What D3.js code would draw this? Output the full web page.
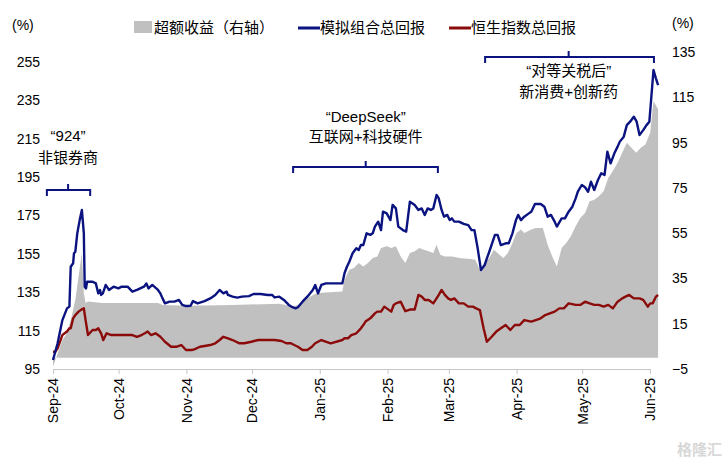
<!DOCTYPE html>
<html><head><meta charset="utf-8">
<script src="https://cdn.jsdelivr.net/npm/d3@7"></script>
<style>body{margin:0;background:#fff}svg{font-family:"Liberation Sans",Arial,"Noto Sans CJK SC",sans-serif}</style>
</head><body><svg id="c" width="728" height="464"></svg>
<script>
// days since 2024-09-01
const blueDays=[0,2.1,4.3,6.4,7.5,8.1,9.2,9.6,10.2,11.1,12.2,13.2,14.1,14.5,15.1,15.6,18.1,19.6,20.7,21.5,22,22.8,24.1,25.6,27.7,29.9,31.4,34.1,36.3,38.4,41.6,42.7,43.7,45.4,48,49.1,50.1,51.2,53.3,55.5,57.6,59.1,60.8,62.9,64,66.1,69.3,71.9,74.2,76.2,77.9,79.4,80,82.1,84.3,86.4,89.6,91.7,94.9,98.2,100.3,101.3,103.5,105.6,107.8,109.5,110.9,112,114.1,116.3,118.8,119.9,121.2,122.7,124.8,127,129.1,132.3,133.3,134.4,135.5,137,138.7,139.8,140.8,141.9,143.4,145.1,146.2,147.2,148.7,150,150.9,152.6,154.3,155.3,156.8,157.9,160,161.5,163.2,165.4,167.1,168.6,170,171.3,172.8,173.9,175.4,176.4,177.7,178.8,180.3,181.4,182.4,183.5,185.6,187.8,189.9,191.4,192.7,194.2,195.7,197.4,198.4,199.5,202.1,203.3,204.8,207,208.4,210.1,211.7,212.7,214,215.5,217.6,218.7,220.4,223,224.7,226.2,227.7,229.4,230.4,232.6,234.1,235.8,237.5,239,240,241.8,243.3,244.7,246,247.5,249.2,250.7,252.2,253.5,255,256.7,258.2,259.2,261,262.4,263.9,265.6,266.9,268.2,269.9,271.4,272.7,273.5,274.6,275.7,276.7];
const blueVals=[99.7,108.4,120.5,126.6,127.5,148.3,150.1,155.3,156.1,165.7,172.6,177.9,165.7,137.9,137,140.5,140.5,139.6,134.4,136.2,133.6,134.4,138.8,136.2,137.9,137,137.9,137.9,135.3,136.2,137.9,139.6,137,138.8,136.2,134.4,131.8,129.2,130.1,130.1,131,128.4,127.8,128,130.4,129.2,130.4,131.8,133.6,136.2,134.4,135.3,133.6,132.7,132.2,132.7,133,134.1,134.1,133.6,133.6,132.3,132.7,131,128.4,127.2,126.6,127.2,130.1,132.7,136.2,138.8,134.4,138.8,139.6,139.6,139.6,139.6,144.9,148.3,150.9,155.3,157.9,157,159.6,159.6,165.7,164.9,165.7,169.2,171.8,167.4,177,176.1,172.6,180.5,178.7,169.2,167.4,166.6,182.2,180.5,177.9,178.7,175.3,178.7,177.9,178.7,185.7,183.9,177.9,174.4,175.3,172.6,173.5,171.8,171.8,170.6,170,167.4,167.4,157.9,146.6,149.2,152.6,156.1,164.9,164.9,159.6,160.5,160.5,165.7,172.6,175.3,172.6,174.4,176.1,177,181,181,179.6,174.4,175.3,171.8,169.2,173.5,173.5,177,179.6,183.9,187.4,190.9,189.7,187.4,192.6,188.3,193.5,197,196.1,208.3,202.2,207.4,210.9,213.5,216.1,222.1,223.9,226.5,223.9,216.9,219.5,222.1,223.9,235.2,250.8,246.5,243];
const redDays=[0,1.1,2.1,4.3,6.4,7.5,8.1,9.2,10.2,11.7,13.2,14.1,14.9,16,18.1,19.6,20.7,22,23,24.5,26.7,28.8,30.9,34.1,36.3,38.4,40.5,42,43.3,44.8,46.9,49.1,51.2,54,56.6,58.7,60.8,63.4,64.6,67.2,69.3,71.9,74.2,76.2,77.9,80,82.1,85.3,87.5,90.7,93.9,97.1,99.2,101.3,104.5,106.7,108.8,110.3,112,114.1,116.3,118.4,119.9,121.2,122.7,127,132.3,133.3,134.9,136.4,138.7,140.8,141.9,142.9,145.1,147.2,148.3,150,151.5,154.7,155.8,156.8,159,161.1,163.2,165.4,167.1,168.6,170,171.8,173.9,175.4,176.4,177.7,179.2,180.7,182,183.5,185.6,187.8,189.9,192,193.5,195.2,196.9,198.4,200.6,202.7,204.8,207,209.1,211.2,213.4,215.5,218.7,220.8,223,225.1,227.2,229.4,231.5,233.6,235.8,239,241.1,243.3,245.4,247.5,249.6,251.8,253.9,256,258.2,260.3,261.8,263.5,265.6,266.7,268.2,269.9,272,273.1,274.2,275.7,276.7];
const redVals=[104,104,105.8,112.7,114.5,116.2,116.2,121.4,123.1,124.9,126.1,126.6,120.5,112.7,115.3,115.3,116.2,113.6,110.1,113.6,112.7,112.7,112.7,112.7,112.7,111.8,112.7,113.6,114.5,112.7,113.6,111.8,109.2,106.6,106.6,107.5,104.9,104.9,105.2,106.6,107,107.5,108.4,110.1,111.8,111,110.1,108.4,108.4,109.2,110.1,110.1,110.1,110.1,109.6,108.4,108.4,107.5,106.6,104.9,104.9,106.6,108.4,109.2,110.1,108.4,110.1,111,111,112.7,113.6,116.2,117.9,119.7,121.4,124,124.9,124.9,127.5,124.9,128.4,129.2,130.1,125.1,126,126,133.6,132.7,131,131,129.2,131.8,133.6,136.2,133.6,131.8,131,131.8,129.2,129.2,127.5,127.5,126.6,125.7,116.2,109.2,111.8,114.5,116.2,117.9,115.3,117.9,117.9,120.5,119.7,120.5,121.4,123.1,124,124.9,126.6,126.6,129.2,128.4,128.4,130.1,129.2,128.4,128.4,127.5,128.4,126.6,130.1,131.8,132.7,133.6,131.8,131.8,131.8,131,127.5,129.2,129.2,132.7,133.6,132.7,132.2];
const grayDays=[0,2.1,4.3,6.4,8.5,10.2,11.7,13.2,14.1,14.9,16,22.4,39.5,48,50.1,60.8,82.1,103.5,109.9,112,116.3,120.5,124.8,132.3,133.3,135.5,137.6,139.8,141.9,144,146.2,148.3,150,152.6,154.7,156.8,159,161.1,163.2,165.4,167.5,169.6,171.8,173.9,175.4,177.1,179.2,182.4,186.7,191,193.1,195.2,197.4,199.5,201.6,203.3,205.9,208,210.1,211.9,214,215.5,218.7,220.8,224,226.2,228.3,230.4,232.6,234.7,236.8,239,241.1,243.3,245.4,247.5,249.6,251.8,253.9,256,258.2,260.3,262.4,264.5,266.7,268.8,270.9,273.1,274.6,276.7];
const grayVals=[-4,1.9,7.8,10.8,18.2,25.6,35.9,46.2,28.5,24.1,24.8,24.1,24.1,24.1,23.3,22.9,23.3,23.8,22.6,23.3,26.3,28.5,28.8,29.2,34.4,38.8,39.6,41.8,40.3,41.8,44,44.7,48.4,49.2,48.4,49.2,44.7,41.8,46.2,47,48.4,47.7,47,46.2,49.9,45.5,44.7,44.7,43.9,43.6,43.3,38.8,41.8,44,47.7,46.2,44,46.2,50.7,55.1,56.6,55.1,56.6,57.3,57.3,49.9,44.7,40.3,48.4,50.7,53.6,58,61.7,63.9,69.1,69.8,71.3,73.5,79.4,82.4,86.1,90.5,94.9,92.7,90.5,92.7,94.2,99.4,113.4,109.7];
const leftTicks=[95,115,135,155,175,195,215,235,255];
const rightTicks=[-5,15,35,55,75,95,115,135];
const monthTicks=["2024-09-01","2024-10-01","2024-11-01","2024-12-01","2025-01-01","2025-02-01","2025-03-01","2025-04-01","2025-05-01","2025-06-01"];
const notes=[
 {from:-2.8,to:17,mid:6.9,y:188.3,lines:["“924”","非银券商"],ty:[141,163]},
 {from:109.8,to:176,mid:143,y:200.3,lines:["“DeepSeek”","互联网+科技硬件"],ty:[122,142]},
 {from:197.6,to:274.8,mid:235.8,y:257.6,lines:["“对等关税后”","新消费+创新药"],ty:[76,97]}
];

const start=new Date(2024,8,1);
const toDate=d=>new Date(start.getTime()+d*86400000);
const svg=d3.select("#c");
const x=d3.scaleTime().domain([start,new Date(2025,5,1)]).range([53,650]);
const yL=d3.scaleLinear().domain([95,255]).range([369,62]);
const yR=d3.scaleLinear().domain([-5,135]).range([369,52]);
const BLUE="#0b1380",RED="#8b0a0a",GRAY="#c0c0c0";

const gray=grayDays.map((d,i)=>[toDate(d),grayVals[i]]);
svg.append("path").datum(gray).attr("fill",GRAY)
 .attr("d",d3.area().x(d=>x(d[0])).y0(yR(0)).y1(d=>yR(d[1])));
const line=d3.line().x(d=>x(d[0])).y(d=>yL(d[1]));
svg.append("path").datum(redDays.map((d,i)=>[toDate(d),redVals[i]])).attr("fill","none").attr("stroke",RED).attr("stroke-width",2.4).attr("stroke-linejoin","round").attr("d",line);
svg.append("path").datum(blueDays.map((d,i)=>[toDate(d),blueVals[i]])).attr("fill","none").attr("stroke",BLUE).attr("stroke-width",2.4).attr("stroke-linejoin","round").attr("d",line);

// axes
const fmt=d3.timeFormat("%b-%y");
const gx=svg.append("g").attr("transform","translate(0,369)")
 .call(d3.axisBottom(x).tickValues(monthTicks.map(s=>new Date(s+"T00:00:00"))).tickFormat(fmt).tickSize(5));
gx.select(".domain").attr("stroke","#c8c8c8");
gx.selectAll(".tick line").attr("stroke","#c8c8c8");
gx.selectAll("text").attr("transform","rotate(-90)").attr("text-anchor","end").attr("x",-9).attr("y",0).attr("dy","0.35em")
 .style("font-size","14px").attr("fill","#000");
const gl=svg.append("g").attr("transform","translate(42,0)").call(d3.axisLeft(yL).tickValues(leftTicks).tickSize(0));
gl.select(".domain").remove();
gl.selectAll("text").style("font-size","14px").attr("fill","#000").attr("x",-2);
const gr=svg.append("g").attr("transform","translate(668,0)").call(d3.axisRight(yR).tickValues(rightTicks).tickSize(0));
gr.select(".domain").remove();
gr.selectAll("text").style("font-size","14px").attr("fill","#000").attr("x",4);
svg.append("text").attr("x",12).attr("y",30).text("(%)").style("font-size","14px");
svg.append("text").attr("x",672).attr("y",28).text("(%)").style("font-size","14px");

// legend
svg.append("rect").attr("x",134).attr("y",21).attr("width",18).attr("height",12).attr("fill",GRAY);
svg.append("text").attr("x",154).attr("y",33).text("超额收益（右轴）").style("font-size","15px");
svg.append("line").attr("x1",298).attr("x2",320).attr("y1",28).attr("y2",28).attr("stroke",BLUE).attr("stroke-width",3);
svg.append("text").attr("x",320).attr("y",33).text("模拟组合总回报").style("font-size","15px");
svg.append("line").attr("x1",449).attr("x2",471).attr("y1",28).attr("y2",28).attr("stroke",RED).attr("stroke-width",3);
svg.append("text").attr("x",471).attr("y",33).text("恒生指数总回报").style("font-size","15px");

// annotations
notes.forEach(n=>{
 const x0=x(toDate(n.from)),x1=x(toDate(n.to)),xm=x(toDate(n.mid)),yy=yL(n.y);
 svg.append("path").attr("fill","none").attr("stroke",BLUE).attr("stroke-width",2)
  .attr("d",`M${x0},${yy+6}V${yy}H${x1}V${yy+6}M${xm},${yy}V${yy-6}`);
 n.lines.forEach((t,i)=>svg.append("text").attr("x",xm).attr("y",n.ty[i]).attr("text-anchor","middle").text(t).style("font-size","15px"));
});
svg.append("text").attr("x",722).attr("y",455).attr("text-anchor","end").text("格隆汇").style("font-size","15px").attr("fill","#d8d8d8").style("font-weight","bold");
</script></body></html>
